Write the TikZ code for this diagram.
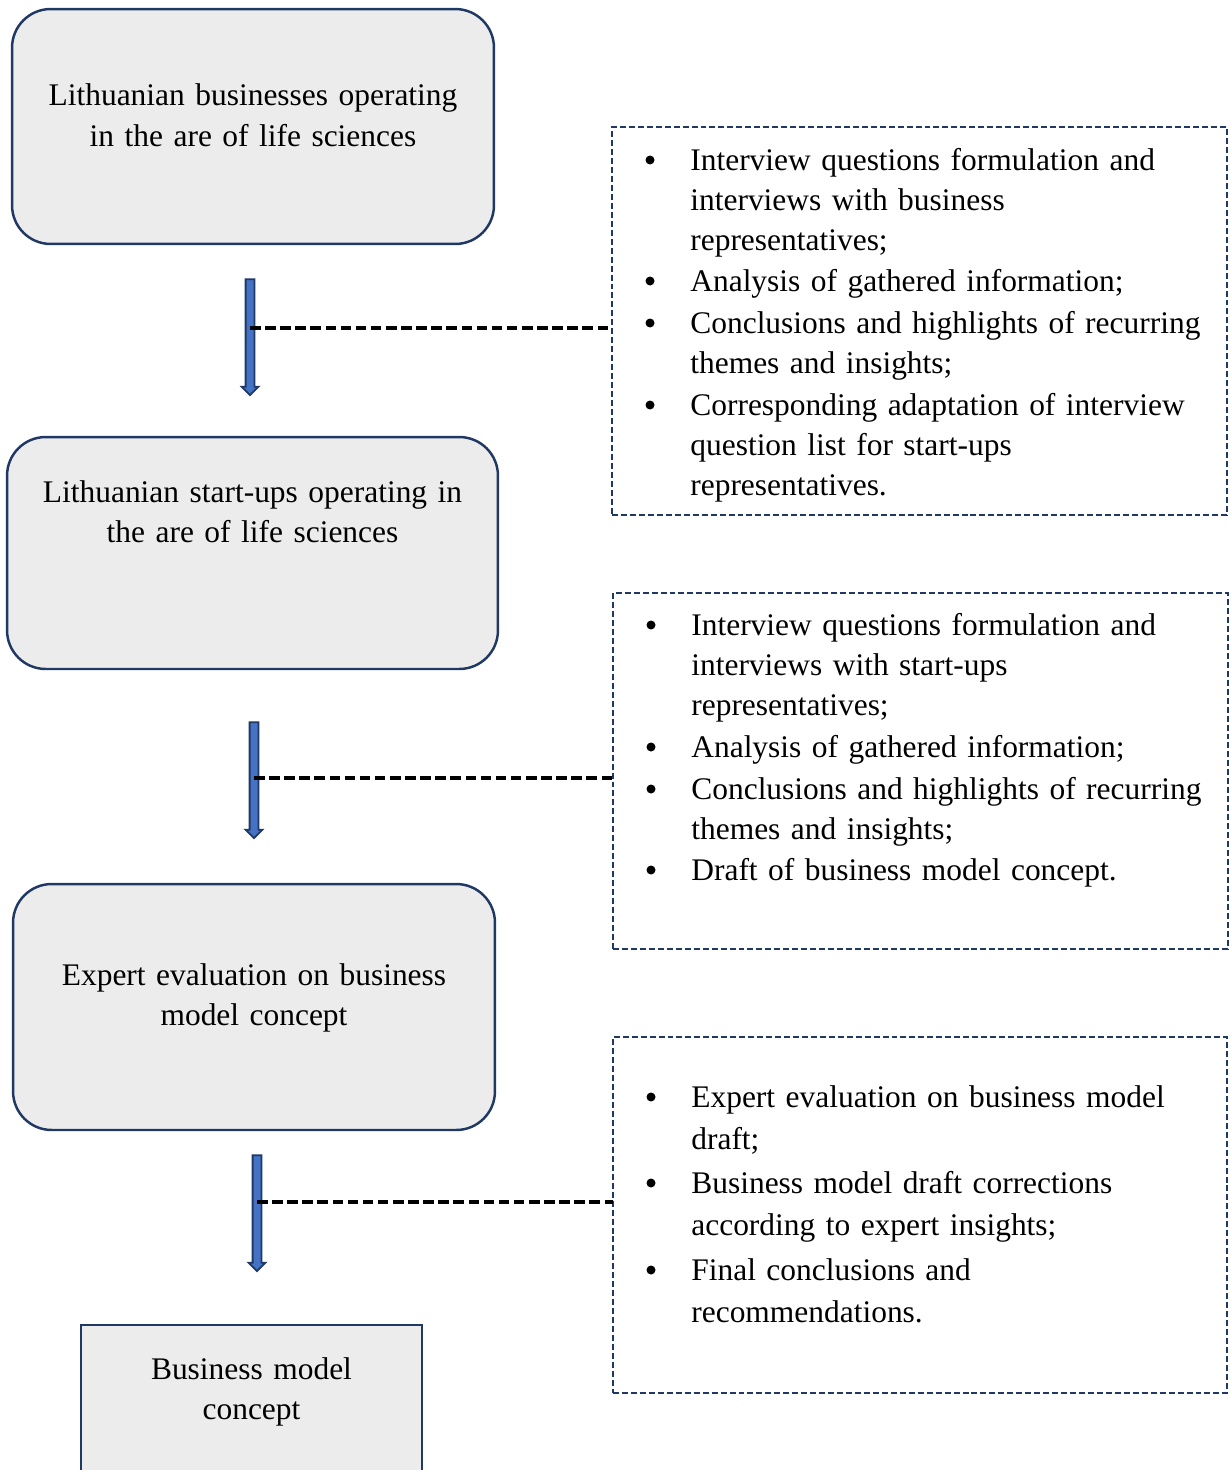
\documentclass[tikz,border=0pt]{standalone}
\usepackage{fontspec}
\setmainfont{Liberation Serif}
\usetikzlibrary{shapes.arrows}
\definecolor{lsnavy}{RGB}{31,56,100}
\definecolor{lsfill}{RGB}{236,236,236}
\definecolor{lsblue}{RGB}{68,114,196}
\tikzset{
	stagebox/.style={draw=lsnavy, fill=lsfill, line width=1.4pt, rounded corners=22pt, inner sep=0pt, outer sep=0pt},
	resultbox/.style={draw=lsnavy, fill=lsfill, line width=1.4pt, inner sep=0pt, outer sep=0pt},
	notebox/.style={draw=lsnavy, line width=1.1pt, dash pattern=on 3.4pt off 1.7pt, inner sep=0pt, outer sep=0pt},
	flowarrow/.style={single arrow, shape border rotate=270, draw=lsnavy, fill=lsblue, line width=1pt, inner sep=0.07cm, single arrow head extend=0.08cm, single arrow tip angle=90, minimum height=2.32cm},
	linkline/.style={draw=black, line width=2pt, dash pattern=on 6pt off 2.6pt},
	boxlabel/.style={font=\fontsize{17.9}{22.8}\selectfont, align=center, text width=9.6cm, anchor=base, inner sep=0pt},
	itemtext/.style={font=\fontsize{17.9}{22.8}\selectfont, align=left, text width=10.8cm, anchor=base west, inner sep=0pt},
	itemdot/.style={circle, fill=black, minimum size=0.18cm, inner sep=0pt}
}
\begin{document}
\begin{tikzpicture}[x=0.02cm,y=-0.02cm]
		
		\clip (0,0) rectangle (1230,1470);
		
		\node[stagebox, minimum width=9.64cm, minimum height=4.70cm] (box1) at (253,126.5) {};
		\node[stagebox, minimum width=9.82cm, minimum height=4.64cm] (box2) at (252.5,553) {};
		\node[stagebox, minimum width=9.64cm, minimum height=4.92cm] (box3) at (254,1007) {};
		\node[resultbox, minimum width=6.82cm, minimum height=2.98cm] (box4) at (251.5,1399.5) {};
		
		\node[boxlabel] (lab1) at (253,106) {Lithuanian businesses operating\\in the are of life sciences};
		\node[boxlabel] (lab2) at (252.5,502) {Lithuanian start-ups operating in\\the are of life sciences};
		\node[boxlabel] (lab3) at (254,985) {Expert evaluation on business\\model concept};
		\node[boxlabel] (lab4) at (251.5,1379) {Business model\\concept};
		
		\node[flowarrow] (arr1) at (250,335) {};
		\node[flowarrow] (arr2) at (254,778) {};
		\node[flowarrow] (arr3) at (257,1211) {};
		
		\node[notebox, minimum width=12.30cm, minimum height=7.76cm] (notesA) at (919.5,321) {};
		\node[notebox, minimum width=12.30cm, minimum height=7.12cm] (notesB) at (920.5,771) {};
		\node[notebox, minimum width=12.28cm, minimum height=7.12cm] (notesC) at (920,1215) {};
		
		\coordinate (j1) at (250,328);
		\coordinate (j2) at (254,778);
		\coordinate (j3) at (257,1202);
		\draw[linkline] (j1) -- (j1 -| notesA.west);
		\draw[linkline] (j2) -- (j2 -| notesB.west);
		\draw[linkline] (j3) -- (j3 -| notesC.west);
		
		\foreach \y/\txt [count=\n] in {
			170/{Interview questions formulation and\\interviews with business\\representatives;},
			291/{Analysis of gathered information;},
			333/{Conclusions and highlights of recurring\\themes and insights;},
			415/{Corresponding adaptation of interview\\question list for start-ups\\representatives.}
		}{
			\node[itemdot] (dotA\n) at (650,\y-10) {};
			\node[itemtext] (itemA\n) at (690,\y) {\txt};
		}
		
		\foreach \y/\txt [count=\n] in {
			635/{Interview questions formulation and\\interviews with start-ups\\representatives;},
			757/{Analysis of gathered information;},
			799/{Conclusions and highlights of recurring\\themes and insights;},
			880/{Draft of business model concept.}
		}{
			\node[itemdot] (dotB\n) at (651,\y-10) {};
			\node[itemtext] (itemB\n) at (691,\y) {\txt};
		}
		
		\foreach \y/\txt [count=\n] in {
			1107/{Expert evaluation on business model\\draft;},
			1193/{Business model draft corrections\\according to expert insights;},
			1280/{Final conclusions and\\recommendations.}
		}{
			\node[itemdot] (dotC\n) at (651,\y-10) {};
			\node[itemtext, font=\fontsize{17.9}{23.9}\selectfont] (itemC\n) at (691,\y) {\txt};
		}
		
	\end{tikzpicture}
\end{document}
